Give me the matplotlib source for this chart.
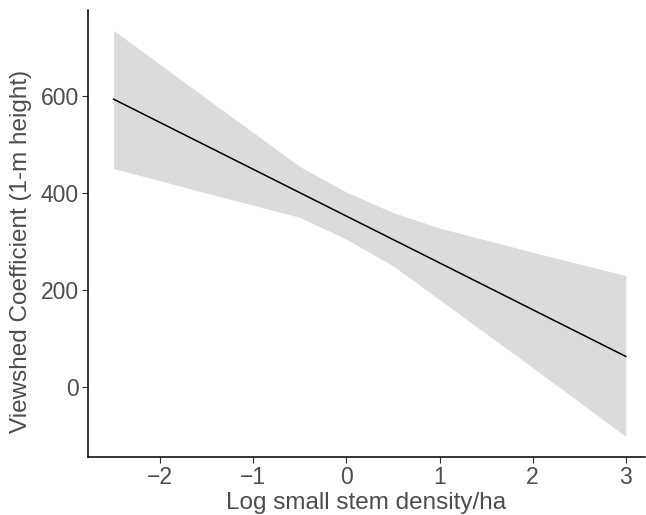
import matplotlib
matplotlib.use("Agg")
import matplotlib.pyplot as plt

plt.rcParams["font.family"] = ["Liberation Sans", "DejaVu Sans"]

# ribbon (confidence band)
band_x = [-2.5, -1.5, -0.5, 0.0, 0.5, 1.0, 2.0, 3.0]
band_upper = [736, 595, 455, 402, 360, 328, 278, 230]
band_lower = [451, 400, 350, 305, 250, 180, 40, -102]

# fitted line
fit_x = [-2.5, 3.0]
fit_y = [594, 63]

x_ticks = [-2, -1, 0, 1, 2, 3]
y_ticks = [0, 200, 400, 600]

fig = plt.figure(figsize=(6.46, 5.15), dpi=100)
ax = fig.add_axes([0.1362, 0.1132, 0.862, 0.8674])

ax.fill_between(band_x, band_lower, band_upper, color="#DBDBDB", linewidth=0)
ax.plot(fit_x, fit_y, color="black", linewidth=1.1)

ax.set_xlim(-2.775, 3.205)
ax.set_ylim(-144, 778)
ax.set_xticks(x_ticks)
ax.set_xticklabels(["\u2212" + str(-t) if t < 0 else str(t) for t in x_ticks])
ax.set_yticks(y_ticks)

for side in ("top", "right"):
    ax.spines[side].set_visible(False)
for side in ("left", "bottom"):
    ax.spines[side].set_linewidth(1.1)
    ax.spines[side].set_color("black")

ax.tick_params(axis="both", length=4, width=0.8, color="#333333",
               labelsize=16.5, labelcolor="#4D4D4D", pad=2.5)

ax.set_xlabel("Log small stem density/ha", fontsize=17.5, color="#4D4D4D", labelpad=2)
ax.set_ylabel("Viewshed Coefficient (1-m height)", fontsize=17.5, color="#4D4D4D")
ax.yaxis.set_label_coords(-0.1, 0.46)

fig.savefig("out.png", dpi=100)
